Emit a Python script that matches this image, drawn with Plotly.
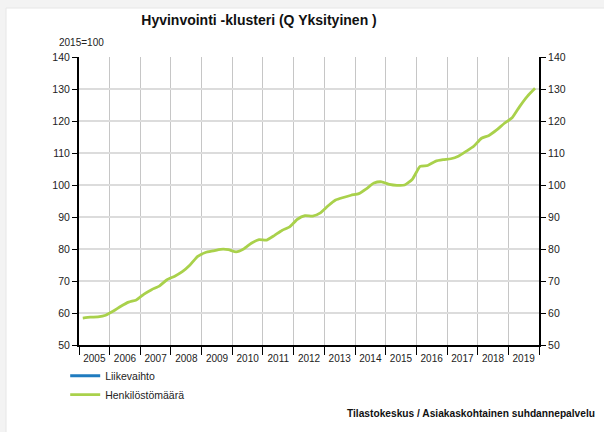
import plotly.graph_objects as go

# ---- data ----
years = list(range(2005, 2020))
quarter_mid = ["02-15", "05-15", "08-15", "11-15"]
henkilostomaara = [
    58.4, 58.7, 58.8, 59.3,   # 2005
    60.6, 62.1, 63.4, 64.1,   # 2006
    65.9, 67.3, 68.4, 70.4,   # 2007
    71.5, 72.9, 75.0, 77.7,   # 2008
    78.9, 79.4, 79.9, 79.8,   # 2009
    79.1, 80.0, 81.8, 82.9,   # 2010
    82.8, 84.2, 85.8, 86.9,   # 2011
    89.3, 90.4, 90.3, 91.3,   # 2012
    93.5, 95.3, 96.1, 96.8,   # 2013
    97.3, 98.8, 100.6, 101.0, # 2014
    100.2, 99.9, 100.0, 101.8,# 2015
    105.8, 106.1, 107.4, 107.9,# 2016
    108.2, 109.0, 110.5, 112.1,# 2017
    114.6, 115.5, 117.2, 119.3,# 2018
    121.0, 124.5, 127.7, 130.2 # 2019
]
liikevaihto = [None]  # no data shown
y_ticks = list(range(50, 141, 10))

dates = [f"{y}-{q}" for y in years for q in quarter_mid]

FONT = "Liberation Sans, Arial, sans-serif"
GREEN = "#a9d14b"
BLUE = "#1f7bbf"

# plot area in pixels: x 79..539, y 57..345
PW, PH = 460, 288
def px(x):
    return (x - 79) / PW
def py(y):
    return (345 - y) / PH

fig = go.Figure()
fig.add_trace(go.Scatter(x=dates[:1], y=liikevaihto, mode="lines", name="Liikevaihto",
                         line=dict(color=BLUE, width=3)))
fig.add_trace(go.Scatter(x=dates, y=henkilostomaara, mode="lines", name="Henkilöstömäärä",
                         line=dict(color=GREEN, width=2.8, shape="spline", smoothing=0.5)))
# invisible trace to activate right axis
fig.add_trace(go.Scatter(x=dates, y=henkilostomaara, mode="lines", yaxis="y2",
                         line=dict(color="rgba(0,0,0,0)", width=0), showlegend=False,
                         hoverinfo="skip"))

fig.update_layout(
    width=604, height=432,
    margin=dict(l=79, r=65, t=57, b=87, autoexpand=False),
    paper_bgcolor="#f3f3f3", plot_bgcolor="white",
    font=dict(family=FONT, size=10, color="#222"),
    title=dict(text="<b>Hyvinvointi -klusteri (Q Yksityinen )</b>",
               x=259/604, xanchor="center", y=1-20/432, yanchor="middle",
               font=dict(family=FONT, size=14, color="#111")),
    showlegend=True,
    legend=dict(x=-0.03, xanchor="left", y=-0.056, yanchor="top",
                font=dict(family=FONT, size=10.5, color="#222"),
                bgcolor="rgba(0,0,0,0)", tracegroupgap=0, itemwidth=30),
    xaxis=dict(type="date", range=["2005-01-01", "2020-01-01"],
               tick0="2005-01-01", dtick="M12", tickformat="%Y",
               ticklabelmode="period", ticks="outside", ticklen=8, tickwidth=1,
               tickcolor="#000", showline=True, linecolor="#000", linewidth=2,
               showgrid=True, gridcolor="#c6c6c6", gridwidth=1,
               ticklabelstandoff=-5,
               tickfont=dict(family=FONT, size=10, color="#222"),
               zeroline=False),
    yaxis=dict(range=[50, 140], tickvals=y_ticks, ticks="outside", ticklen=5,
               tickcolor="#000", showline=True, linecolor="#000", linewidth=2,
               showgrid=True, gridcolor="#dcdcdc", gridwidth=2, zeroline=False,
               tickfont=dict(family=FONT, size=10.5, color="#222")),
    yaxis2=dict(range=[50, 140], tickvals=y_ticks, ticks="outside", ticklen=5,
                tickcolor="#000", showline=True, linecolor="#000", linewidth=2,
                overlaying="y", side="right", showgrid=False, zeroline=False,
                tickfont=dict(family=FONT, size=10.5, color="#222")),
    shapes=[
        dict(type="rect", xref="paper", yref="paper", layer="below",
             x0=px(6), x1=px(610), y0=py(440), y1=py(8),
             fillcolor="white", line=dict(color="#e6e6e6", width=1)),
    ],
    annotations=[
        dict(text="2015=100", xref="paper", yref="paper",
             x=px(57), y=py(43), xanchor="left", yanchor="middle",
             showarrow=False, font=dict(family=FONT, size=10, color="#222")),
        dict(text="<b>Tilastokeskus / Asiakaskohtainen suhdannepalvelu</b>",
             xref="paper", yref="paper", x=px(597), y=py(413),
             xanchor="right", yanchor="middle", showarrow=False,
             font=dict(family=FONT, size=10.2, color="#111")),
    ],
)

fig.write_html("out.html", config={"displayModeBar": False},
               post_script="document.body.style.margin='0';")
